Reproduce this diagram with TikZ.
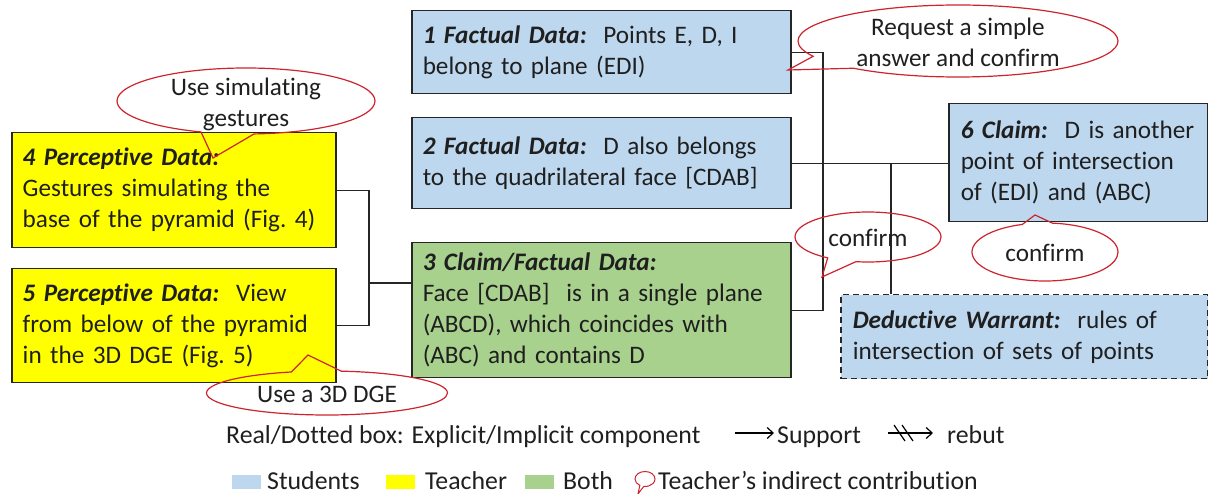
\documentclass[tikz,border=0pt]{standalone}
\usepackage{fontspec}
\setmainfont{Carlito}[Ligatures=NoCommon]
\usetikzlibrary{shapes.callouts,arrows.meta}
\definecolor{stublue}{RGB}{189,215,238}
\definecolor{teayellow}{RGB}{255,255,0}
\definecolor{bothgreen}{RGB}{169,209,142}
\definecolor{hintred}{RGB}{205,35,45}
\newcommand{\boxlabel}[1]{\textbf{\textit{#1}}}
\newcommand{\hinttext}[1]{\raisebox{-10pt}[0pt][0pt]{\begin{tabular}{@{}c@{}}#1\end{tabular}}}

\begin{document}
\begin{tikzpicture}[x=1pt,y=-1pt,
  every node/.style={font=\fontsize{25.2}{31}\selectfont, text=black!88},
  arg/.style={draw=black!85, line width=1.5pt, anchor=north west, align=left, inner xsep=11pt, inner ysep=0pt},
  stud/.style={arg, fill=stublue},
  teach/.style={arg, fill=teayellow},
  both/.style={arg, fill=bothgreen},
  hint/.style={ellipse callout, draw=hintred, line width=1.2pt, inner sep=0pt, callout pointer arc=24},
  link/.style={draw=black!85, line width=1.4pt},
  legtext/.style={anchor=base west, inner sep=0pt, font=\fontsize{25.8}{30}\selectfont},
  swatch/.style={minimum width=29pt, minimum height=14pt, inner sep=0pt, anchor=west}
]
\useasboundingbox (0,0) rectangle (1208,494);

% argument boxes
\node[stud, text width=357pt, minimum height=83pt] (fd1) at (411,10)
  {\boxlabel{1 Factual Data:}\ \ Points E, D, I\\belong to plane (EDI)};
\node[stud, text width=357pt, minimum height=91pt] (fd2) at (411,117)
  {\boxlabel{2 Factual Data:}\ \ D also belongs\\to the quadrilateral face [CDAB]};
\node[both, text width=357pt, minimum height=135pt] (cl3) at (411,242)
  {\boxlabel{3 Claim/Factual Data:}\\Face [CDAB]\ \ is in a single plane\\(ABCD), which coincides with\\(ABC) and contains D};
\node[teach, text width=302pt, minimum height=115pt] (pd4) at (11,132)
  {\boxlabel{4 Perceptive Data:}\\Gestures simulating the\\base of the pyramid (Fig.~4)};
\node[teach, text width=302pt, minimum height=114pt] (pd5) at (11,268)
  {\boxlabel{5 Perceptive Data:}\ \ View\\from below of the pyramid\\in the 3D DGE (Fig.~5)};
\node[stud, text width=235pt, inner xsep=12pt, minimum height=118pt] (cl6) at (948,103)
  {\boxlabel{6 Claim:}\ \ D is another\\point of intersection\\of (EDI) and (ABC)};
\node[stud, dash pattern=on 6pt off 4pt, text width=343pt, inner xsep=12pt, minimum height=84pt] (war) at (840,294)
  {\boxlabel{Deductive Warrant:}\ \ rules of\\intersection of sets of points};

% connectors
\coordinate (j45) at (369,283);
\coordinate (j13) at (823,163);
\coordinate (jw) at (891,163);
\draw[link] (pd4.east) -| (j45) |- (pd5.east);
\draw[link] (j45) -- (j45 -| cl3.west);
\draw[link] (fd1.east) -| (j13) |- (cl3.east);
\draw[link] (fd2.east) -- (fd2.east -| cl6.west);
\draw[link] (jw) -- (jw |- war.north);

% teacher's indirect contributions
\node[hint, minimum width=320pt, minimum height=72pt, callout absolute pointer={(788,70)}] (h1) at (958,41)
  {\hinttext{Request a simple\\answer and confirm}};
\node[hint, minimum width=258pt, minimum height=66pt, callout absolute pointer={(213,158)}] (h4) at (246,101)
  {\hinttext{Use simulating\\gestures}};
\node[hint, minimum width=241pt, minimum height=44pt, callout absolute pointer={(308,355)}] (h5) at (327,393)
  {\hinttext{Use a 3D DGE}};
\node[hint, minimum width=146pt, minimum height=50pt, callout absolute pointer={(822,277)}] (h3) at (868,237)
  {\hinttext{confirm}};
\node[hint, minimum width=146pt, minimum height=58pt, callout absolute pointer={(1035,215)}] (h6) at (1045,252)
  {\hinttext{confirm}};

% legend
\node[legtext] (lgbox) at (226,443) {Real/Dotted box: Explicit/Implicit component};
\coordinate (sup0) at (735,433);
\node[legtext] (lgsup) at (777,443) {Support};
\draw[line width=1.2pt, -{Straight Barb[length=6pt,width=11pt]}] (sup0) -- ([xshift=-3pt]lgsup.west |- sup0);
\coordinate (reb0) at (888,433);
\node[legtext] (lgreb) at (947,443) {rebut};
\draw[line width=1.2pt, -{Straight Barb[length=6pt,width=11pt]}] (reb0) -- ([xshift=-14pt]lgreb.west |- reb0);
\draw[line width=1.2pt] ([shift={(6,-8)}]reb0) -- ++(11,16);
\draw[line width=1.2pt] ([shift={(14,-8)}]reb0) -- ++(11,16);

\node[swatch, fill=stublue] (sw1) at (232,482) {};
\node[legtext] (lgstu) at (267,489) {Students};
\node[swatch, fill=teayellow] (sw2) at (386,482) {};
\node[legtext] (lgtea) at (425,489) {Teacher};
\node[swatch, fill=bothgreen] (sw3) at (525,482) {};
\node[legtext] (lgbot) at (563,489) {Both};
\node[hint, line width=1pt, minimum width=20pt, minimum height=15pt, callout absolute pointer={(638,494)}] (bub) at (645,479) {};
\node[legtext] (lgind) at (658,489) {Teacher’s indirect contribution};
\end{tikzpicture}
\end{document}
